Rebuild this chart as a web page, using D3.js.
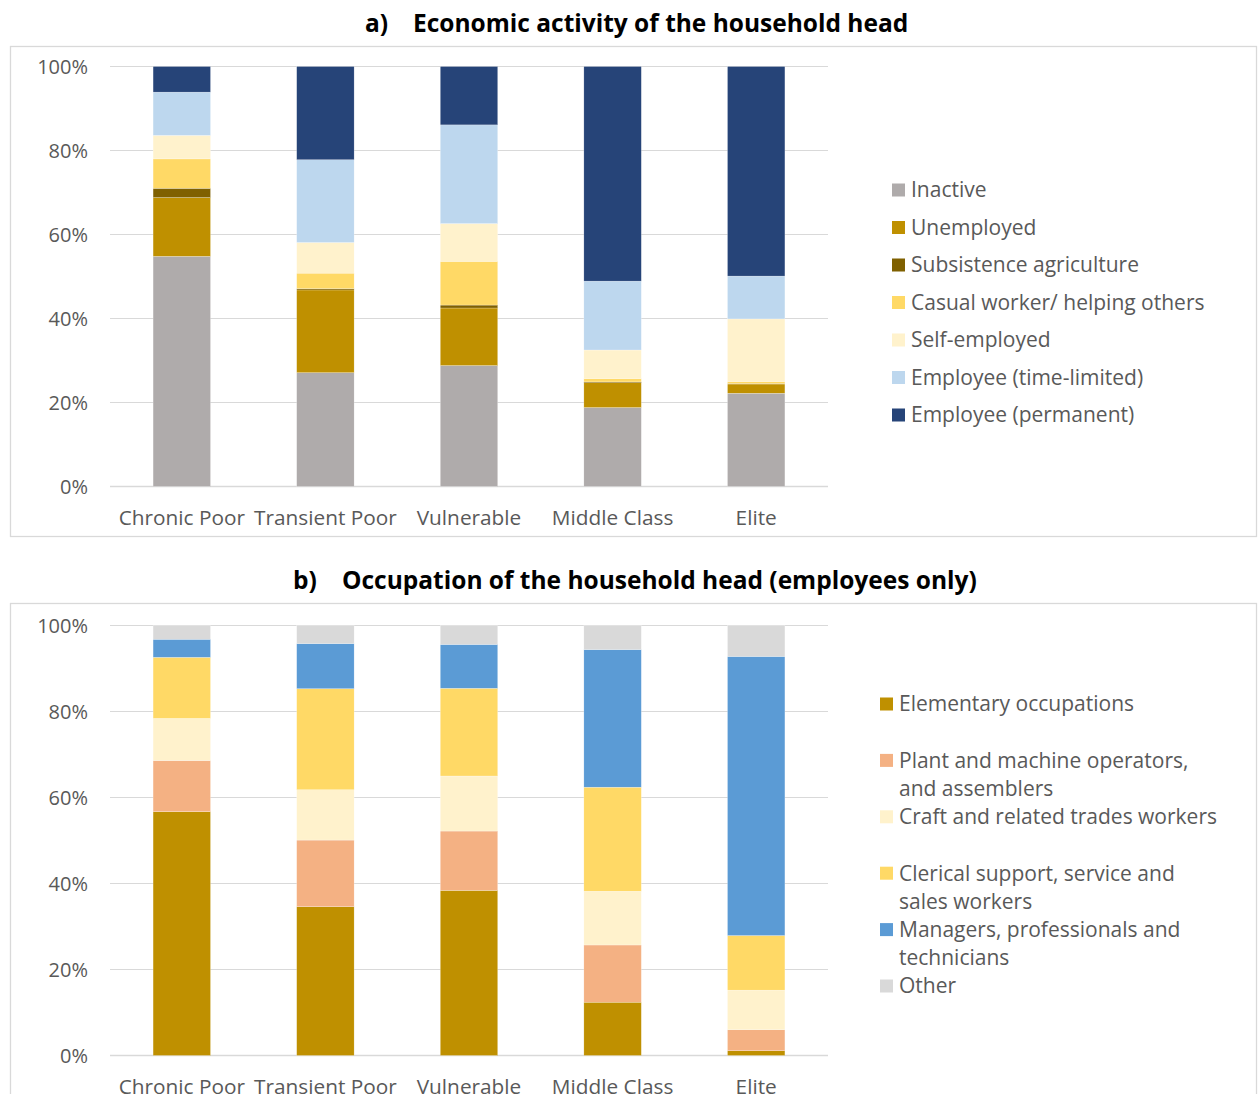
<!DOCTYPE html>
<html>
<head>
<meta charset="utf-8">
<script src="https://cdn.jsdelivr.net/npm/d3@7/dist/d3.min.js"></script>
<style>
  body { margin: 0; background: #fff; }
  text { font-family: 'Open Sans', sans-serif; }
</style>
</head>
<body>
<svg id="root" width="1258" height="1094"></svg>
<script>
/* global d3*/

const classes = ['Chronic Poor', 'Transient Poor', 'Vulnerable', 'Middle Class', 'Elite']

// a) economic activity, % of household heads
const activityNames = ['Inactive', 'Unemployed', 'Subsistence agriculture', 'Casual worker/ helping others', 'Self-employed', 'Employee (time-limited)', 'Employee (permanent)']
const activityColors = ['#afabab', '#bf9000', '#7f6000', '#ffd966', '#fff2cc', '#bdd7ee', '#264478']
const inactive = [54.8, 27.1, 28.8, 18.8, 22.2]
const unemployed = [14.0, 19.7, 13.7, 5.9, 2.2]
const subsistence = [2.2, 0.3, 0.7, 0.2, 0.1]
const casual = [7.0, 3.7, 10.4, 0.8, 0.5]
const selfEmployed = [5.6, 7.3, 9.0, 6.8, 14.9]
const timeLimited = [10.3, 19.7, 23.5, 16.4, 10.2]
const permanent = [6.1, 22.2, 13.9, 51.1, 49.9]

// b) occupation, employees only
const occupationNames = ['Elementary occupations', 'Plant and machine operators,\nand assemblers', 'Craft and related trades workers', 'Clerical support, service and\nsales workers', 'Managers, professionals and\ntechnicians', 'Other']
const occupationColors = ['#bf9000', '#f4b183', '#fff2cc', '#ffd966', '#5b9bd5', '#d9d9d9']
const elementary = [56.7, 34.6, 38.4, 12.4, 1.1]
const plant = [11.9, 15.5, 13.8, 13.3, 4.9]
const craft = [9.8, 11.7, 12.8, 12.5, 9.2]
const clerical = [14.2, 23.5, 20.4, 24.2, 12.7]
const managers = [4.2, 10.5, 10.2, 32.0, 64.9]
const other = [3.2, 4.2, 4.4, 5.6, 7.2]

const yTicks = [0, 20, 40, 60, 80, 100]

const svg = d3.select('#root')

function toRows(series) {
  return classes.map((c, i) => {
    const row = { cls: c }
    series.forEach((s, k) => { row[k] = s[i] })
    return row
  })
}

function drawPanel(p) {
  const g = svg.append('g')

  g.append('rect')
    .attr('x', p.frame[0]).attr('y', p.frame[1])
    .attr('width', p.frame[2]).attr('height', p.frame[3])
    .attr('fill', 'none').attr('stroke', '#d9d9d9').attr('stroke-width', 1.3)

  g.append('text')
    .attr('x', p.titleX[0]).attr('y', p.titleY)
    .attr('font-weight', 700).attr('font-size', 24.5).attr('fill', '#000')
    .text(p.letter)
  g.append('text')
    .attr('x', p.titleX[1]).attr('y', p.titleY)
    .attr('font-weight', 700).attr('font-size', 24.5).attr('fill', '#000')
    .text(p.title)

  const x = d3.scaleBand().domain(classes).range([110, 828]).paddingInner(0.6).paddingOuter(0.3)
  const y = d3.scaleLinear().domain([0, 100]).range([p.bottom, p.top])

  g.append('g')
    .selectAll('line')
    .data(yTicks)
    .enter()
    .append('line')
    .attr('x1', 110).attr('x2', 828)
    .attr('y1', d => y(d)).attr('y2', d => y(d))
    .attr('stroke', '#d9d9d9').attr('stroke-width', d => d === 0 ? 1.6 : 1.2)

  g.append('g')
    .selectAll('text')
    .data(yTicks)
    .enter()
    .append('text')
    .attr('x', 88).attr('y', d => y(d)).attr('dy', '0.35em')
    .attr('text-anchor', 'end').attr('font-size', 20).attr('fill', '#595959')
    .text(d => d + '%')

  const keys = p.series.map((s, k) => k)
  const stacked = d3.stack().keys(keys)(toRows(p.series))

  g.append('g')
    .selectAll('g')
    .data(stacked)
    .enter()
    .append('g')
    .attr('fill', d => p.colors[d.key])
    .selectAll('rect')
    .data(d => d)
    .enter()
    .append('rect')
    .attr('x', d => x(d.data.cls))
    .attr('width', x.bandwidth())
    .attr('y', d => y(d[1]))
    .attr('height', d => y(d[0]) - y(d[1]))
    .attr('stroke', '#fff').attr('stroke-width', 0.4).attr('stroke-opacity', 0.6)

  g.append('g')
    .selectAll('text')
    .data(classes)
    .enter()
    .append('text')
    .attr('x', d => x(d) + x.bandwidth() / 2).attr('y', p.bottom + 31)
    .attr('dy', '0.35em')
    .attr('text-anchor', 'middle').attr('font-size', 20.8).attr('fill', '#595959')
    .text(d => d)

  const item = g.append('g')
    .selectAll('g')
    .data(p.names)
    .enter()
    .append('g')
    .attr('transform', (d, i) => 'translate(' + p.legendX + ',' + (p.legendY + i * p.legendStep) + ')')

  item.append('rect')
    .attr('x', 0).attr('y', -6.5).attr('width', 13).attr('height', 13)
    .attr('fill', (d, i) => p.colors[i])

  item.append('text')
    .attr('font-size', 21).attr('fill', '#595959')
    .selectAll('tspan')
    .data(d => d.split('\n'))
    .enter()
    .append('tspan')
    .attr('x', 19).attr('y', (d, j) => j * 28.2).attr('dy', '0.35em')
    .text(d => d)
}

drawPanel({
  frame: [10.5, 46.5, 1246, 490],
  letter: 'a)', title: 'Economic activity of the household head',
  titleX: [365, 413], titleY: 32,
  top: 66.5, bottom: 486.5,
  series: [inactive, unemployed, subsistence, casual, selfEmployed, timeLimited, permanent],
  colors: activityColors, names: activityNames,
  legendX: 892, legendY: 190, legendStep: 37.5
})

drawPanel({
  frame: [10.5, 603.5, 1246, 520],
  letter: 'b)', title: 'Occupation of the household head (employees only)',
  titleX: [293, 342], titleY: 589,
  top: 625.5, bottom: 1055.5,
  series: [elementary, plant, craft, clerical, managers, other],
  colors: occupationColors, names: occupationNames,
  legendX: 880, legendY: 704, legendStep: 56.4
})
</script>
</body>
</html>
